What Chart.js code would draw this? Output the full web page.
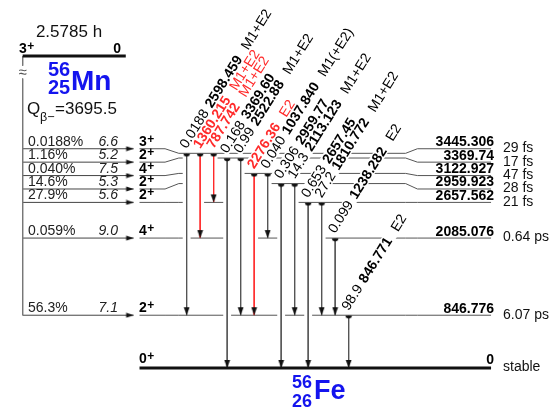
<!DOCTYPE html>
<html>
<head>
<meta charset="utf-8">
<script src="https://cdn.jsdelivr.net/npm/chart.js@4.4.1/dist/chart.umd.min.js"></script>
<style>
  html, body { margin: 0; padding: 0; background: #fff; }
  #scheme { display: block; }
</style>
</head>
<body>
<canvas id="scheme" width="553" height="413"></canvas>
<script>
// ---- 56Mn β− decay to levels of 56Fe (energies in keV) ----
const levelEnergy   = [0, 846.776, 2085.076, 2657.562, 2959.923, 3122.927, 3369.74, 3445.306];
const levelText     = ['0', '846.776', '2085.076', '2657.562', '2959.923', '3122.927', '3369.74', '3445.306'];
const levelSpin     = ['0', '2', '4', '2', '2', '4', '2', '3'];          // all with parity +
const levelHalfLife = ['stable', '6.07 ps', '0.64 ps', '21 fs', '28 fs', '47 fs', '17 fs', '29 fs'];

// β− branches into each level
const betaFeed = [null, '56.3%', '0.059%', '27.9%', '14.6%', '0.040%', '1.16%', '0.0188%'];
const logFt    = [null, '7.1', '9.0', '5.6', '5.3', '7.5', '5.2', '6.6'];

// γ transitions, one column each, left to right (level indices)
const gammaFrom      = [7, 7, 7, 6, 6, 5, 5, 4, 4, 3, 3, 2, 1];
const gammaTo        = [1, 2, 3, 0, 1, 1, 2, 0, 1, 0, 1, 1, 0];
const gammaEnergy    = ['2598.459', '1360.215', '787.742', '3369.60', '2522.88', '2276.36', '1037.840',
                        '2959.77', '2113.123', '2657.45', '1810.772', '1238.282', '846.771'];
const gammaIntensity = ['0.0188', '', '', '0.168', '0.99', '', '0.040', '0.306', '14.3', '0.653', '27.2', '0.099', '98.9'];
const gammaMult      = ['M1+E2', 'M1+E2', 'M1+E2', '', 'M1+E2', 'E2', 'M1(+E2)', '', 'M1+E2', '', 'M1+E2', 'E2', 'E2'];
const gammaRed       = [false, true, true, false, false, true, false, false, false, false, false, false, false];

// parent 56Mn
const parentSpin = '3';
const parentLevelText = '0';
const parentHalfLife = '2.5785 h';
const qValue = '3695.5';

// ---- drawing layout ----
const PX_PER_KEV = 0.063855;             // vertical scale of the scheme
const Y_MAX = 372 / PX_PER_KEV;
const Y_MIN = Y_MAX - 413 / PX_PER_KEV;
const kev = px => px / PX_PER_KEV;       // pixel offset -> keV on the y scale

const CROWDED_FROM = 3;                  // levels from here up get evenly spaced end rows
const ROW_KEV = kev(13.75);
const displayEnergy = i => i < CROWDED_FROM ? levelEnergy[i]
                                             : levelEnergy[CROWDED_FROM] + (i - CROWDED_FROM) * ROW_KEV;
const PARENT_ROW = displayEnergy(levelEnergy.length - 1) + kev(95);

const X_FEED = 18, X_BETA_TIP = 131, X_LEVEL_L = 137, X_LEVEL_R = 495;
const KINK_L0 = 163, KINK_L1 = 177, KINK_R0 = 408, KINK_R1 = 420;
const GAMMA_X0 = 185, GAMMA_DX = 13.75, GAP = 4;
const gammaX = k => GAMMA_X0 + k * GAMMA_DX;

const FAMILY = "'Liberation Sans', Arial, Helvetica, sans-serif";
const font = (size, weight = '', style = '') => `${style} ${weight} ${size}px ${FAMILY}`;
const BLUE = '#1414ee', RED = '#ff2a2a', INK = '#555555';

// ---- small marker images (drawn centred on the data point) ----
function makeCanvas(w, h, draw) {
  const c = document.createElement('canvas');
  c.width = w; c.height = h;
  draw(c.getContext('2d'));
  return c;
}
const arrowDown = makeCanvas(7, 20, g => {        // tip sits at the centre
  g.fillStyle = '#111';
  g.beginPath(); g.moveTo(0.6, 2); g.lineTo(6.4, 2); g.lineTo(3.5, 10); g.closePath(); g.fill();
});
const arrowRight = makeCanvas(20, 6, g => {
  g.fillStyle = '#111';
  g.beginPath(); g.moveTo(2.5, 0.4); g.lineTo(10, 3); g.lineTo(2.5, 5.6); g.closePath(); g.fill();
});
const startCap = makeCanvas(8, 8, g => {          // half disc hanging under the level
  g.fillStyle = '#111';
  g.beginPath(); g.arc(4, 4, 3.2, 0, Math.PI); g.closePath(); g.fill();
});

// ---- level lines: broken where other γ rays pass through ----
function levelPolylines(i) {
  const E = levelEnergy[i], D = displayEnergy(i);
  let pieces = [[KINK_L1, KINK_R0]];
  gammaFrom.forEach((f, k) => {
    if (levelEnergy[f] > E && levelEnergy[gammaTo[k]] < E) {
      const a = gammaX(k) - GAP, b = gammaX(k) + GAP;
      pieces = pieces.flatMap(([s, e]) => {
        if (b <= s || a >= e) return [[s, e]];
        const out = [];
        if (a > s) out.push([s, a]);
        if (b < e) out.push([b, e]);
        return out;
      });
    }
  });
  pieces = pieces.filter(([s, e]) => s === KINK_L1 || e === KINK_R0 || e - s >= 8);
  const lines = [];
  let cur = [{ x: X_LEVEL_L, y: D }, { x: KINK_L0, y: D }, { x: KINK_L1, y: E }];
  pieces.forEach(([s, e]) => {
    if (s === KINK_L1) { cur.push({ x: e, y: E }); }
    else { lines.push(cur); cur = [{ x: s, y: E }, { x: e, y: E }]; }
  });
  if (!pieces.length || pieces[pieces.length - 1][1] !== KINK_R0) { lines.push(cur); cur = [{ x: KINK_R0, y: E }]; }
  cur.push({ x: KINK_R1, y: D }, { x: X_LEVEL_R, y: D });
  lines.push(cur);
  return lines;
}

const datasets = [];
const line = (data, color, width, extra = {}) => datasets.push(Object.assign({
  data, showLine: true, borderColor: color, borderWidth: width, pointRadius: 0, tension: 0,
  borderCapStyle: 'butt'
}, extra));

// parent level and the feeding line
line([{ x: X_FEED, y: PARENT_ROW }, { x: 123, y: PARENT_ROW }], '#111', 3);
line([{ x: X_FEED, y: PARENT_ROW }, { x: X_FEED, y: PARENT_ROW - kev(10) }], '#777', 1);
line([{ x: X_FEED, y: PARENT_ROW - kev(23) }, { x: X_FEED, y: displayEnergy(1) }], '#777', 1);

// daughter levels
levelEnergy.forEach((E, i) => {
  levelPolylines(i).forEach(pts => line(pts, i === 0 ? '#111' : '#555', i === 0 ? 3 : 1));
});

// β− branches
betaFeed.forEach((b, i) => {
  if (!b) return;
  line([{ x: X_FEED, y: displayEnergy(i) }, { x: X_BETA_TIP, y: displayEnergy(i) }], '#444', 1,
       { pointStyle: ['circle', arrowRight], pointRadius: [0, 3] });
});

// γ rays
gammaFrom.forEach((f, k) => {
  line([{ x: gammaX(k), y: levelEnergy[f] }, { x: gammaX(k), y: levelEnergy[gammaTo[k]] }],
       gammaRed[k] ? RED : INK, 1,
       { pointStyle: [startCap, arrowDown], pointRadius: [3, 3] });
});

// ---- text ----
const ANGLE = -58 * Math.PI / 180;
const textPlugin = {
  id: 'schemeText',
  afterDatasetsDraw(chart) {
    const { ctx, scales: { x, y } } = chart;
    const X = v => x.getPixelForValue(v), Y = v => y.getPixelForValue(v);
    const put = (t, px, py, f, color = '#000', align = 'left', base = 'alphabetic') => {
      ctx.font = f; ctx.fillStyle = color; ctx.textAlign = align; ctx.textBaseline = base;
      ctx.fillText(t, px, py);
    };
    ctx.save();

    // γ labels: intensity, energy, multipolarity along a slanted baseline
    const labels = gammaFrom.map((f, k) => {
      const parts = [];
      let pos = 0;
      if (gammaIntensity[k]) { parts.push({ t: gammaIntensity[k], f: font(14), at: pos }); ctx.font = font(14); pos += ctx.measureText(gammaIntensity[k]).width + 5; }
      ctx.font = font(14, 'bold');
      parts.push({ t: gammaEnergy[k], f: font(14, 'bold'), at: pos });
      pos += ctx.measureText(gammaEnergy[k]).width + 10;
      if (gammaMult[k]) { parts.push({ t: gammaMult[k], f: font(14), at: pos }); ctx.font = font(14); pos += ctx.measureText(gammaMult[k]).width; }
      return { x0: X(gammaX(k)), y0: Y(levelEnergy[f]) - 4, parts, len: pos, color: gammaRed[k] ? RED : '#000' };
    });
    labels.forEach(l => {
      ctx.save(); ctx.translate(l.x0, l.y0); ctx.rotate(ANGLE);
      ctx.fillStyle = '#fff'; ctx.fillRect(-1, -11, l.len + 2, 12.5);
      ctx.restore();
    });
    labels.forEach(l => {
      ctx.save(); ctx.translate(l.x0, l.y0); ctx.rotate(ANGLE);
      l.parts.forEach(p => put(p.t, p.at, 0, p.f, l.color));
      ctx.restore();
    });

    // spin labels with a raised parity sign
    const spin = (j, px, py) => {
      put(j, px, py, font(14, 'bold'));
      ctx.font = font(14, 'bold');
      put('+', px + ctx.measureText(j).width + 0.5, py - 3, font(12, 'bold'));
    };

    levelEnergy.forEach((E, i) => {
      const yd = Y(displayEnergy(i));
      const thick = i === 0 ? 1.5 : 0;
      spin(levelSpin[i], 139, yd - 3 - thick);
      put(levelText[i], 494, yd - 2.5 - thick, font(14, 'bold'), '#000', 'right');
      put(levelHalfLife[i], 503, yd - 0.5, font(14), '#111', 'left', 'middle');
      if (betaFeed[i]) {
        put(betaFeed[i], 28, yd - 3, font(14), '#222');
        put(logFt[i], 118, yd - 3, font(14, '', 'italic'), '#222', 'right');
      }
    });

    // parent 56Mn
    const yp = Y(PARENT_ROW);
    spin(parentSpin, 19, yp - 3);
    put(parentLevelText, 121, yp - 3, font(14, 'bold'), '#000', 'right');
    put(parentHalfLife, 69, yp - 19, font(17), '#111', 'center');
    put('\u2248', X(X_FEED), yp + 17, font(15), '#555', 'center', 'middle');
    put('56', 48, yp + 20, font(20, 'bold'), BLUE);
    put('25', 48, yp + 38, font(20, 'bold'), BLUE);
    put('Mn', 71, yp + 34, font(28, 'bold'), BLUE);
    put('Q', 27, yp + 58, font(17), '#111');
    put('\u03b2\u2212', 40, yp + 65, font(12.5), '#111');
    put('=' + qValue, 55, yp + 58, font(17), '#111');

    // daughter 56Fe
    const yg = Y(0);
    put('56', 292, yg + 20, font(18, 'bold'), BLUE);
    put('26', 292, yg + 39, font(18, 'bold'), BLUE);
    put('Fe', 314, yg + 31, font(27, 'bold'), BLUE);

    ctx.restore();
  }
};

new Chart(document.getElementById('scheme'), {
  type: 'scatter',
  data: { datasets },
  options: {
    responsive: false,
    animation: false,
    devicePixelRatio: 1,
    events: [],
    layout: { padding: 0 },
    clip: false,
    scales: {
      x: { type: 'linear', min: 0, max: 553, display: false },
      y: { type: 'linear', min: Y_MIN, max: Y_MAX, display: false }
    },
    plugins: { legend: { display: false }, tooltip: { enabled: false } }
  },
  plugins: [textPlugin]
});
</script>
</body>
</html>
